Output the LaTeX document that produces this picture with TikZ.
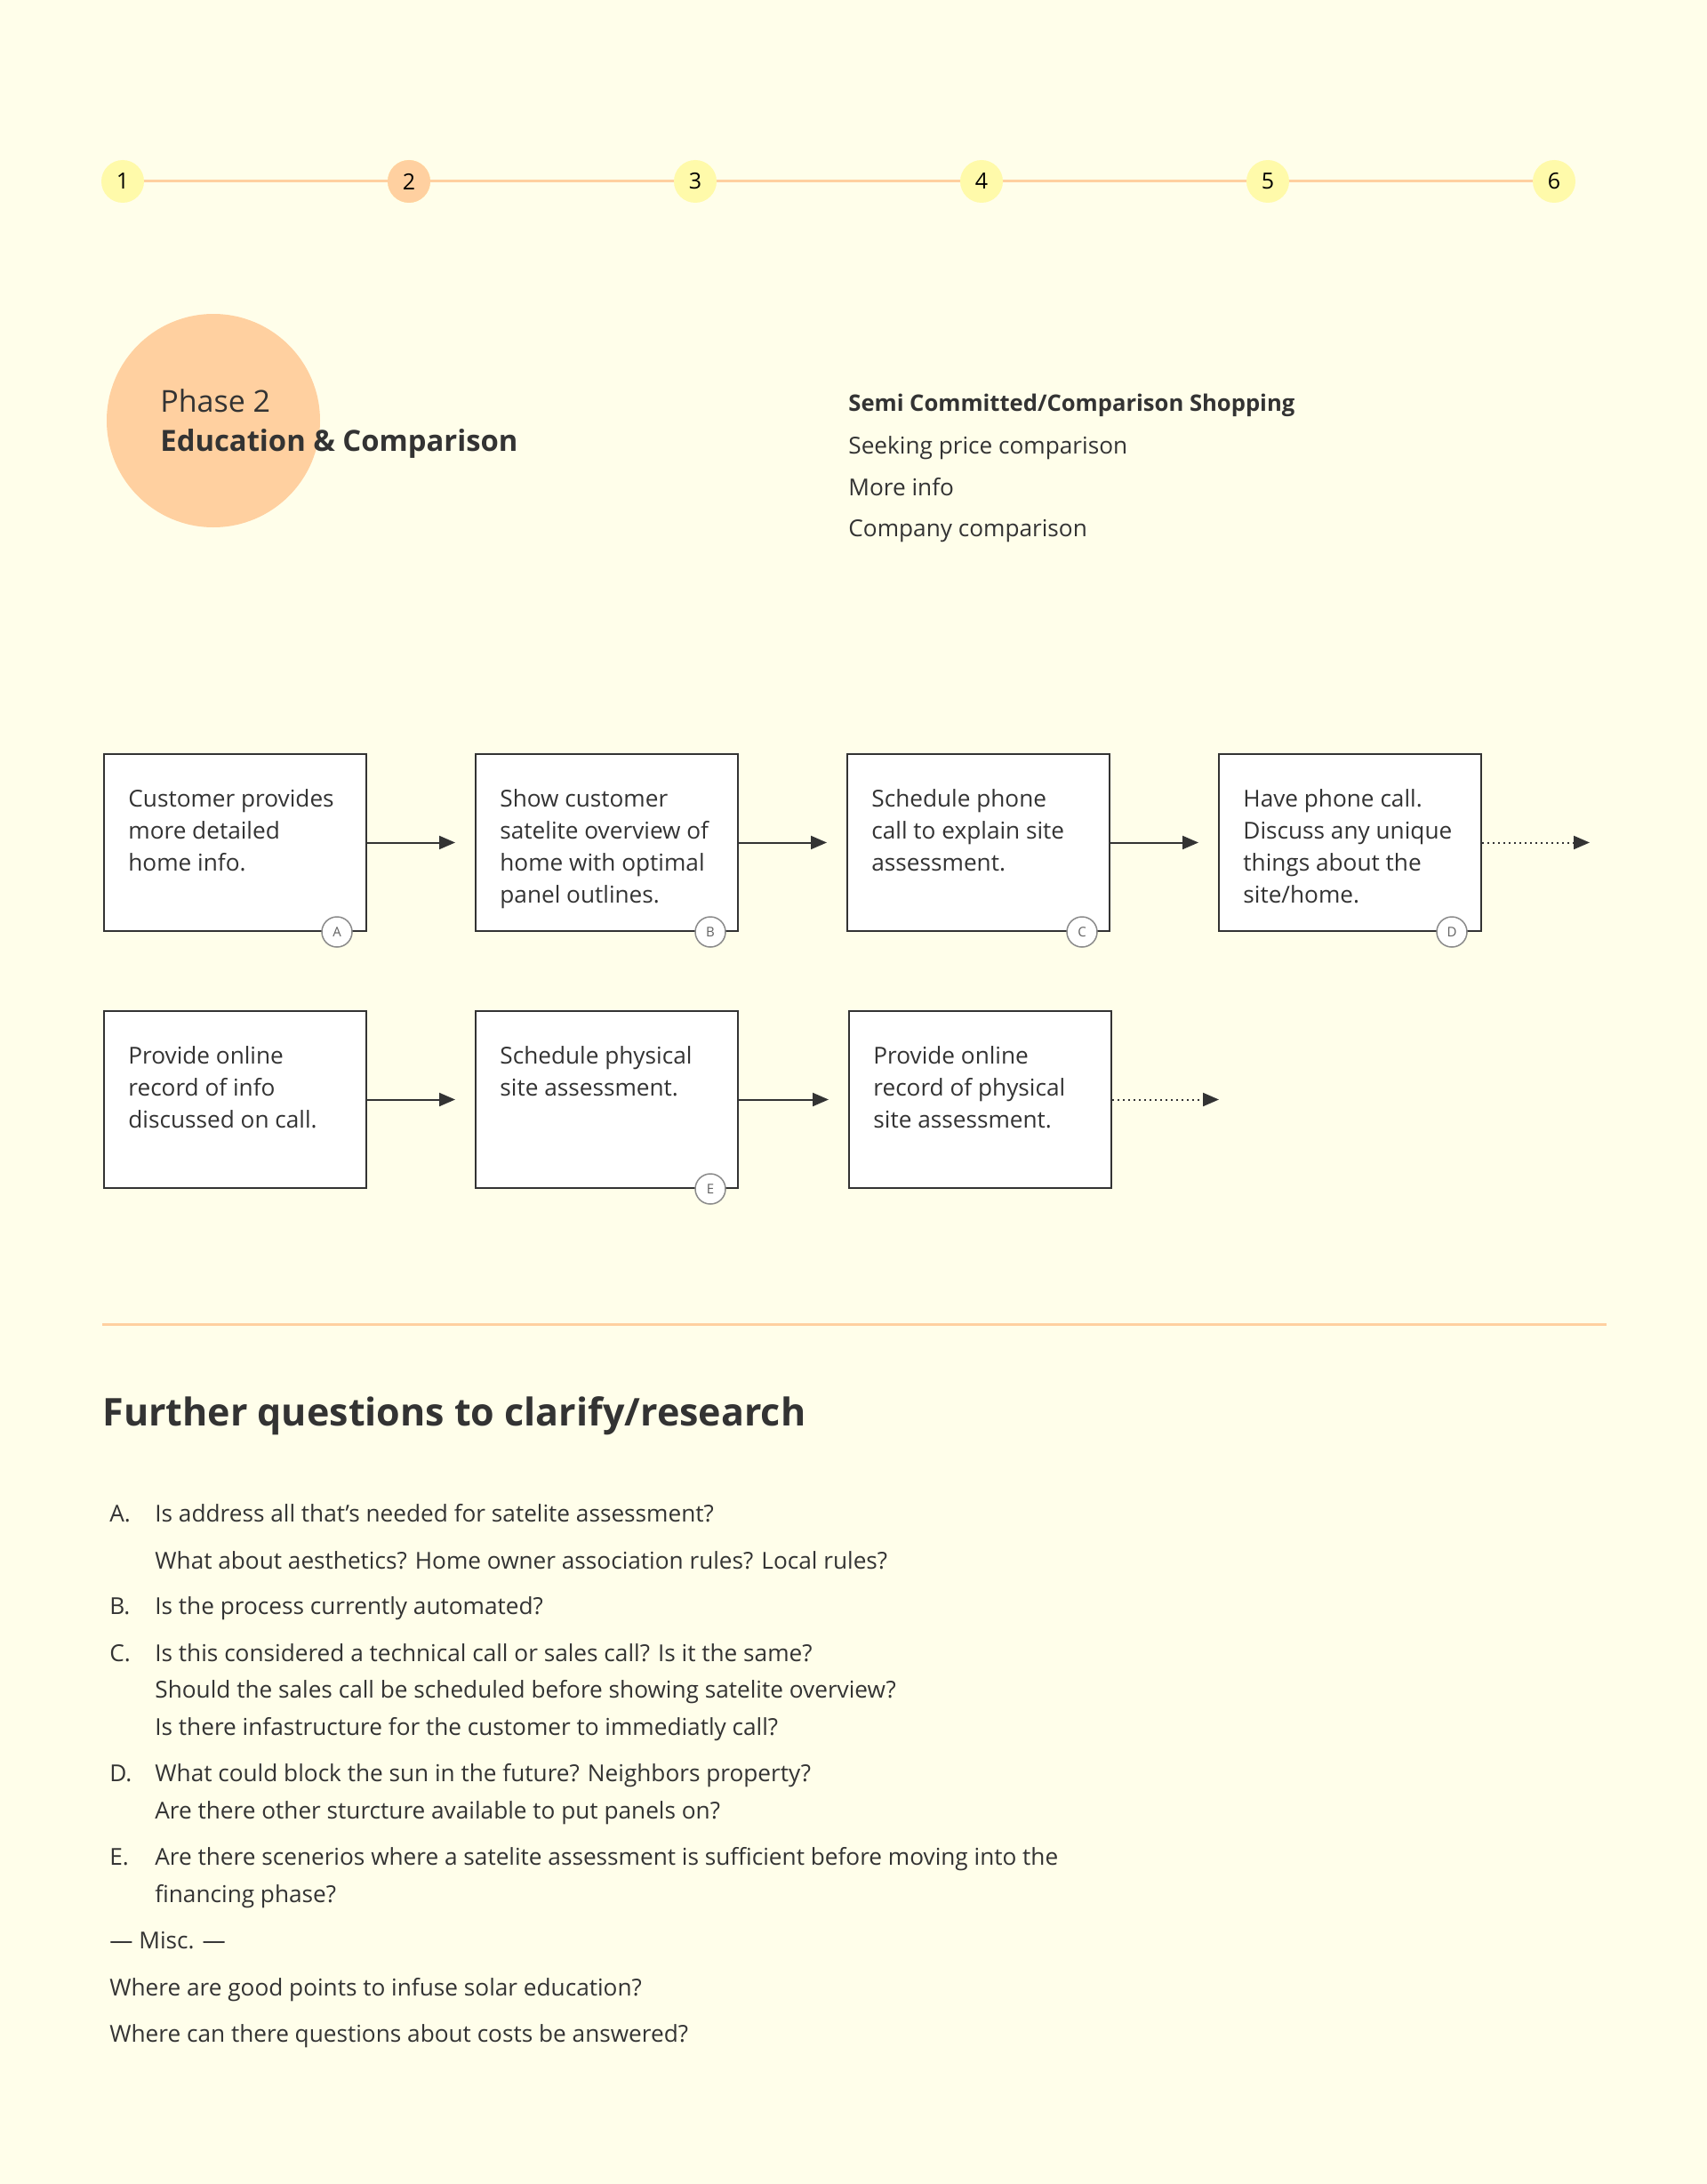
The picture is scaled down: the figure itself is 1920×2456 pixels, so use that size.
\documentclass[tikz,border=0pt]{standalone}
\usepackage{fontspec}
\setmainfont{Open Sans}
\usetikzlibrary{arrows.meta,positioning,calc}

\definecolor{paper}{HTML}{FFFEEA}
\definecolor{ink}{HTML}{333333}
\definecolor{peach}{HTML}{FFD0A0}
\definecolor{lemon}{HTML}{FFFAAA}
\definecolor{rim}{HTML}{8A8A8A}

\begin{document}
\begin{tikzpicture}[x=0.5pt, y=-0.5pt,
  dot/.style={circle, fill=lemon, minimum size=24pt, inner sep=0pt,
              text=black, font=\fontsize{12.5}{15}\selectfont},
  track/.style={draw=peach, line width=1.5pt},
  stepbox/.style={rectangle, draw=ink, fill=white, line width=1pt,
                  minimum width=147.5pt, minimum height=99.5pt, inner sep=0pt},
  steptext/.style={anchor=north west, align=left, inner sep=0pt, text=ink,
                   font=\fontsize{13.1}{18}\selectfont},
  badge/.style={circle, draw=rim, fill=white, line width=0.75pt,
                minimum size=17pt, inner sep=0pt, text=rim!70!black,
                font=\fontsize{7.5}{8}\selectfont},
  flow/.style={draw=ink, line width=1pt,
               -{Triangle[length=9pt,width=7.5pt]}, shorten >=11pt},
  flowdot/.style={flow, dotted, shorten >=0pt},
  line/.style={anchor=base west, inner sep=0pt, text=ink,
               font=\fontsize{13.1}{18}\selectfont},
  side/.style={line, font=\fontsize{13.1}{18}\selectfont},
]
  % page
  \fill[paper] (0,0) rectangle (1920,2456);
  \useasboundingbox (0,0) rectangle (1920,2456);

  % Column / row positions
  \def\xa{264.5}
  \def\xb{682.5}
  \def\xc{1100.5}
  \def\xd{1518.5}
  \def\yrowa{947.5}
  \def\yrowb{1236.5}

  % Phase timeline
  \foreach \i in {1,...,6}
    \node[dot] (t\i) at ({138+322*(\i-1)}, 204) {\i};
  \node[dot, fill=peach] at (t2) {2};
  \foreach \i/\j in {1/2,2/3,3/4,4/5,5/6}
    \draw[track] (t\i) -- (t\j);

  % Phase header
  \node[circle, fill=peach, minimum size=120pt, inner sep=0pt] (phasedot) at (240,473) {};
  \node[line, font=\fontsize{17}{22}\selectfont] (phasenum) at (180,463) {Phase 2};
  \node[line, font=\fontsize{16.4}{22}\selectfont\bfseries] (phasename) at (180,507)
       {Education \& Comparison};

  % Mindset
  \node[side, font=\fontsize{12.8}{18}\selectfont\bfseries] (mood) at (954,462)
       {Semi Committed/Comparison Shopping};
  \node[side] (mood1) at (954,510) {Seeking price comparison};
  \node[side] (mood2) at (954,557) {More info};
  \node[side] (mood3) at (954,603) {Company comparison};

  % Row 1
  \node[stepbox] (cust)  at (\xa,\yrowa) {};
  \node[stepbox] (sat)   at (\xb,\yrowa) {};
  \node[stepbox] (sched) at (\xc,\yrowa) {};
  \node[stepbox] (call)  at (\xd,\yrowa) {};

  \node[steptext] at ([shift={(28,40)}]cust.north west)
       {Customer provides\\more detailed\\home info.};
  \node[steptext] at ([shift={(28,40)}]sat.north west)
       {Show customer\\satelite overview of\\home with optimal\\panel outlines.};
  \node[steptext] at ([shift={(28,40)}]sched.north west)
       {Schedule phone\\call to explain site\\assessment.};
  \node[steptext] at ([shift={(28,40)}]call.north west)
       {Have phone call.\\Discuss any unique\\things about the\\site/home.};

  \node[badge] (ba) at ([xshift=-17pt]cust.south east) {A};
  \node[badge] (bb) at ([xshift=-16pt]sat.south east) {B};
  \node[badge] (bc) at ([xshift=-16pt]sched.south east) {C};
  \node[badge] (bd) at ([xshift=-17pt]call.south east) {D};

  \coordinate (callnext) at (1788,\yrowa);
  \draw[flow] (cust) -- (sat);
  \draw[flow] (sat) -- (sched);
  \draw[flow] (sched) -- (call);
  \draw[flowdot] (call) -- (callnext);

  % Row 2
  \node[stepbox] (rec)  at (\xa,\yrowb) {};
  \node[stepbox] (phys) at (\xb,\yrowb) {};
  \node[stepbox] (prec) at (1102.5,\yrowb) {};

  \node[steptext] at ([shift={(28,40)}]rec.north west)
       {Provide online\\record of info\\discussed on call.};
  \node[steptext] at ([shift={(28,40)}]phys.north west)
       {Schedule physical\\site assessment.};
  \node[steptext] at ([shift={(28,40)}]prec.north west)
       {Provide online\\record of physical\\site assessment.};

  \node[badge] (be) at ([xshift=-16pt]phys.south east) {E};

  \coordinate (precnext) at (1371,\yrowb);
  \draw[flow] (rec) -- (phys);
  \draw[flow] (phys) -- (prec);
  \draw[flowdot] (prec) -- (precnext);

  % Divider
  \coordinate (rulel) at (115,1489);
  \coordinate (ruler) at (1807,1489);
  \draw[track] (rulel) -- (ruler);

  % Questions
  \node[line, font=\fontsize{21.5}{26}\selectfont\bfseries] (qhead) at (115,1603)
       {Further questions to clarify/research};

  \node[line] (qa)  at (123,1711) {A.};
  \node[line] (qa1) at (174,1711) {Is address all that’s needed for satelite assessment?};
  \node[line] (qa2) at (174,1764) {What about aesthetics? Home owner association rules? Local rules?};
  \node[line] (qb)  at (123,1815) {B.};
  \node[line] (qb1) at (174,1815) {Is the process currently automated?};
  \node[line] (qc)  at (123,1868) {C.};
  \node[line] (qc1) at (174,1868) {Is this considered a technical call or sales call? Is it the same?};
  \node[line] (qc2) at (174,1909) {Should the sales call be scheduled before showing satelite overview?};
  \node[line] (qc3) at (174,1951) {Is there infastructure for the customer to immediatly call?};
  \node[line] (qd)  at (123,2003) {D.};
  \node[line] (qd1) at (174,2003) {What could block the sun in the future? Neighbors property?};
  \node[line] (qd2) at (174,2045) {Are there other sturcture available to put panels on?};
  \node[line] (qe)  at (123,2097) {E.};
  \node[line] (qe1) at (174,2097) {Are there scenerios where a satelite assessment is sufficient before moving into the};
  \node[line] (qe2) at (174,2139) {financing phase?};
  \node[line] (misc) at (123,2191) {— Misc. —};
  \node[line] (qm1) at (123,2244) {Where are good points to infuse solar education?};
  \node[line] (qm2) at (123,2296) {Where can there questions about costs be answered?};
\end{tikzpicture}
\end{document}
